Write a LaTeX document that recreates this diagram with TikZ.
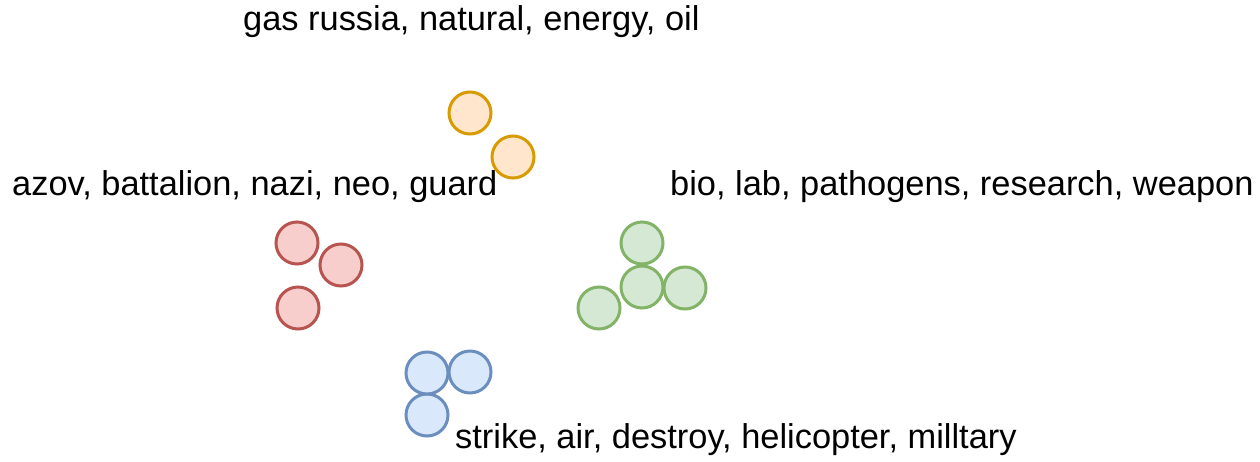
\documentclass[tikz,border=0pt]{standalone}
\usepackage{fontspec}
\setmainfont{Liberation Sans}
\definecolor{orfill}{HTML}{FFE6CC}\definecolor{ordraw}{HTML}{D79B00}
\definecolor{rdfill}{HTML}{F8CECC}\definecolor{rddraw}{HTML}{B85450}
\definecolor{grfill}{HTML}{D5E8D4}\definecolor{grdraw}{HTML}{82B366}
\definecolor{blfill}{HTML}{DAE8FC}\definecolor{bldraw}{HTML}{6C8EBF}
\tikzset{
  dot/.style={circle, minimum size=42pt, inner sep=0pt, line width=3pt},
  orangedot/.style={dot, fill=orfill, draw=ordraw},
  reddot/.style={dot, fill=rdfill, draw=rddraw},
  greendot/.style={dot, fill=grfill, draw=grdraw},
  bluedot/.style={dot, fill=blfill, draw=bldraw},
  lbl/.style={anchor=base west, inner sep=0pt, font=\fontsize{34.4}{40}\selectfont}
}
\begin{document}
\begin{tikzpicture}[x=1pt,y=-1pt]
\useasboundingbox[fill=white] (0,0) rectangle (1260,461);
% labels
\node[lbl] (t1) at (243,30) {gas russia, natural, energy, oil};
\node[lbl] (t2) at (12,195) {azov, battalion, nazi, neo, guard};
\node[lbl] (t3) at (670,195) {bio, lab, pathogens, research, weapon};
\node[lbl] (t4) at (455,448) {strike, air, destroy, helicopter, milltary};
% orange
\node[orangedot] (o1) at (470,113) {};
\node[orangedot] (o2) at (513,157) {};
% red
\node[reddot] (r1) at (297,243) {};
\node[reddot] (r2) at (341,265) {};
\node[reddot] (r3) at (298,308) {};
% green
\node[greendot] (g1) at (642,243) {};
\node[greendot] (g4) at (599,308) {};
\node[greendot] (g2) at (642,287) {};
\node[greendot] (g3) at (685,288) {};
% blue
\node[bluedot] (b3) at (427,415) {};
\node[bluedot] (b1) at (427,373) {};
\node[bluedot] (b2) at (470,372) {};
\end{tikzpicture}
\end{document}
